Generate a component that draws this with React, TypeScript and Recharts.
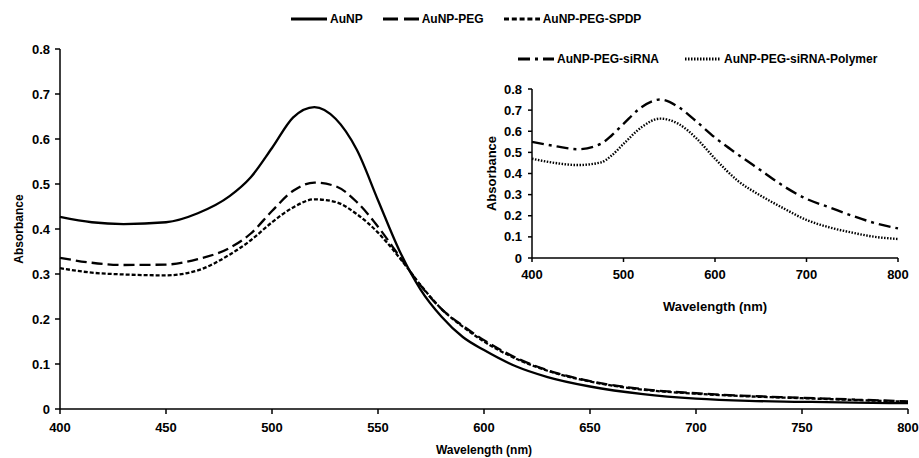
import React from "react";
import { LineChart, Line, XAxis, YAxis } from "recharts";

document.body.style.margin = "0";

const FONT = "'Liberation Sans', Arial, sans-serif";
const INK = "#000";

// main chart: wavelength grid (nm) and absorbance
const mainWavelength = [
  400, 415, 430, 450, 465, 480, 490, 500, 510, 520, 530, 540, 550, 560, 570,
  580, 590, 600, 615, 630, 650, 675, 700, 725, 750, 775, 800,
];
const auNP = [
  0.427, 0.415, 0.411, 0.415, 0.435, 0.473, 0.515, 0.58, 0.648, 0.671, 0.645,
  0.576, 0.464, 0.353, 0.266, 0.205, 0.16, 0.131, 0.095, 0.071, 0.05, 0.033,
  0.023, 0.018, 0.016, 0.014, 0.013,
];
const auNPPeg = [
  0.336, 0.325, 0.32, 0.321, 0.333, 0.358, 0.39, 0.44, 0.485, 0.503, 0.495,
  0.46, 0.405, 0.34, 0.275, 0.222, 0.185, 0.153, 0.114, 0.086, 0.062, 0.044,
  0.035, 0.029, 0.025, 0.021, 0.017,
];
const auNPPegSpdp = [
  0.313, 0.303, 0.299, 0.297, 0.308, 0.343, 0.375, 0.415, 0.448, 0.466, 0.46,
  0.433, 0.392, 0.337, 0.276, 0.222, 0.183, 0.15, 0.112, 0.085, 0.061, 0.043,
  0.034, 0.028, 0.024, 0.02, 0.016,
];

// inset chart
const insetWavelength = [
  400, 425, 450, 475, 487, 500, 520, 540, 560, 580, 600, 625, 650, 675, 700,
  725, 750, 775, 800,
];
const auNPPegSirna = [
  0.55, 0.53, 0.515, 0.54, 0.58, 0.635, 0.715, 0.75, 0.715, 0.645, 0.57, 0.49,
  0.415, 0.34, 0.28, 0.24, 0.2, 0.165, 0.14,
];
const auNPPegSirnaPolymer = [
  0.47, 0.45, 0.44, 0.452, 0.485, 0.54, 0.62, 0.66, 0.635, 0.565, 0.47, 0.365,
  0.295, 0.235, 0.18, 0.145, 0.12, 0.1, 0.09,
];

const mainXTicks = [400, 450, 500, 550, 600, 650, 700, 750, 800];
const insetXTicks = [400, 500, 600, 700, 800];
const yTicks = [0, 0.1, 0.2, 0.3, 0.4, 0.5, 0.6, 0.7, 0.8];

const mainData = mainWavelength.map((wl, i) => ({
  wl,
  auNP: auNP[i],
  peg: auNPPeg[i],
  spdp: auNPPegSpdp[i],
}));
const insetData = insetWavelength.map((wl, i) => ({
  wl,
  sirna: auNPPegSirna[i],
  polymer: auNPPegSirnaPolymer[i],
}));

const tickStyle = { fill: INK, fontSize: 13, fontWeight: 700, fontFamily: FONT };
const axisLine = { stroke: INK, strokeWidth: 1.5 };
const tickLine = { stroke: INK, strokeWidth: 1.5 };

function YTitle({ viewBox, dx, size }: any) {
  const x = viewBox.x + dx;
  const y = viewBox.y + viewBox.height / 2;
  return (
    <text
      x={x}
      y={y}
      transform={`rotate(-90, ${x}, ${y})`}
      textAnchor="middle"
      fill={INK}
      fontSize={size}
      fontWeight={700}
      fontFamily={FONT}
    >
      Absorbance
    </text>
  );
}

function LegendItem({ dash, label }: { dash?: string; label: string }) {
  return (
    <span style={{ display: "inline-flex", alignItems: "center" }}>
      <svg width={36} height={6} style={{ marginRight: 3 }}>
        <line x1={0} y1={3} x2={36} y2={3} stroke={INK} strokeWidth={3} strokeDasharray={dash} />
      </svg>
      <span>{label}</span>
    </span>
  );
}

const legendText = {
  position: "absolute" as const,
  display: "flex",
  gap: 20,
  fontFamily: FONT,
  fontWeight: 700,
  fontSize: 12,
  color: INK,
  lineHeight: "14px",
};

export default function App() {
  return (
    <div style={{ position: "relative", width: 919, height: 458, background: "#fff", overflow: "hidden" }}>
      <LineChart width={919} height={458} data={mainData} margin={{ top: 49, right: 11, bottom: 0, left: 0 }}>
        <XAxis
          type="number"
          dataKey="wl"
          domain={[400, 800]}
          ticks={mainXTicks}
          height={49}
          tick={tickStyle}
          tickSize={5}
          tickMargin={9}
          axisLine={axisLine}
          tickLine={tickLine}
          label={{
            value: "Wavelength (nm)",
            position: "insideBottom",
            offset: 4,
            fill: INK,
            fontSize: 12,
            fontWeight: 700,
            fontFamily: FONT,
          }}
        />
        <YAxis
          type="number"
          domain={[0, 0.8]}
          ticks={yTicks}
          width={60}
          tick={tickStyle}
          tickSize={5}
          tickMargin={5}
          axisLine={axisLine}
          tickLine={tickLine}
          label={{ content: (p: any) => <YTitle viewBox={p.viewBox} dx={23} size={12} /> }}
        />
        <Line type="monotone" dataKey="auNP" stroke={INK} strokeWidth={2.3} dot={false} isAnimationActive={false} />
        <Line type="monotone" dataKey="peg" stroke={INK} strokeWidth={2.3} strokeDasharray="11 5" dot={false} isAnimationActive={false} />
        <Line type="monotone" dataKey="spdp" stroke={INK} strokeWidth={2.3} strokeDasharray="4 2" dot={false} isAnimationActive={false} />
      </LineChart>

      <div style={{ ...legendText, left: 291, top: 12 }}>
        <LegendItem label="AuNP" />
        <LegendItem dash="15 6" label="AuNP-PEG" />
        <LegendItem dash="5 2.8" label="AuNP-PEG-SPDP" />
      </div>

      <div style={{ position: "absolute", left: 480, top: 75 }}>
        <LineChart width={430} height={240} data={insetData} margin={{ top: 14, right: 12, bottom: 0, left: 0 }}>
          <XAxis
            type="number"
            dataKey="wl"
            domain={[400, 800]}
            ticks={insetXTicks}
            height={57}
            tick={tickStyle}
            tickSize={4}
            tickMargin={8}
            axisLine={axisLine}
            tickLine={tickLine}
            label={{
              value: "Wavelength (nm)",
              position: "insideBottom",
              offset: 4,
              fill: INK,
              fontSize: 13,
              fontWeight: 700,
              fontFamily: FONT,
            }}
          />
          <YAxis
            type="number"
            domain={[0, 0.8]}
            ticks={yTicks}
            width={52}
            tick={tickStyle}
            tickSize={4}
            tickMargin={6}
            axisLine={axisLine}
            tickLine={tickLine}
            label={{ content: (p: any) => <YTitle viewBox={p.viewBox} dx={16} size={13} /> }}
          />
          <Line type="monotone" dataKey="sirna" stroke={INK} strokeWidth={2.4} strokeDasharray="12 5 3 5" dot={false} isAnimationActive={false} />
          <Line type="monotone" dataKey="polymer" stroke={INK} strokeWidth={2.4} strokeDasharray="1.5 1.5" dot={false} isAnimationActive={false} />
        </LineChart>
      </div>

      <div style={{ ...legendText, left: 518, top: 52, gap: 26 }}>
        <LegendItem dash="12 5 3 5" label="AuNP-PEG-siRNA" />
        <LegendItem dash="1.5 1.5" label="AuNP-PEG-siRNA-Polymer" />
      </div>
    </div>
  );
}
